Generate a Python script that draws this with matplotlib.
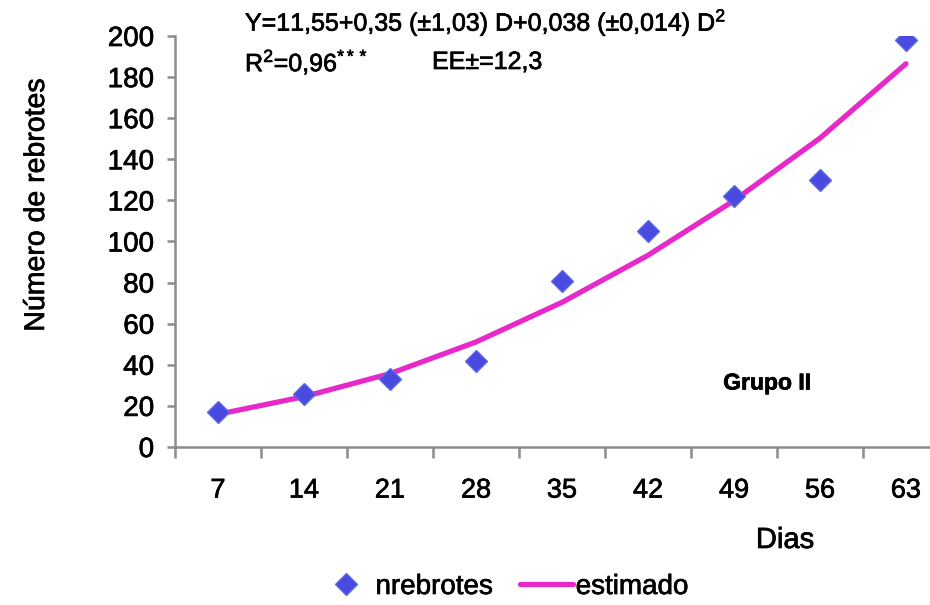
import matplotlib
matplotlib.use("Agg")
import matplotlib.pyplot as plt
import matplotlib.patheffects as pe
import numpy as np

plt.rcParams['font.family'] = ['Liberation Sans', 'DejaVu Sans']
plt.rcParams['mathtext.fontset'] = 'custom'
plt.rcParams['mathtext.rm'] = 'Liberation Sans'
plt.rcParams['mathtext.it'] = 'Liberation Sans'

dias = ['7', '14', '21', '28', '35', '42', '49', '56', '63']
nrebrotes = [17, 26, 33, 42, 81, 105, 122, 130, 198]
estimado = [15.9, 24.5, 35.7, 51.1, 70.4, 93.3, 119.9, 150.3, 186.5]
yticks = [0, 20, 40, 60, 80, 100, 120, 140, 160, 180, 200]

W, H = 930, 605
fig = plt.figure(figsize=(W / 100, H / 100), dpi=100)
left, right, top, bottom = 175, 949, 36, 447
ax = fig.add_axes([left / W, 1 - bottom / H, (right - left) / W, (bottom - top) / H])

stroke = [pe.withStroke(linewidth=0.5, foreground='black')]

x = np.arange(len(dias))
ax.plot(x, estimado, color='#E629C8', lw=3.8, solid_capstyle='round', zorder=2, label='estimado')
ax.plot(x, nrebrotes, ls='none', marker='D', ms=11.5, color='#4A4AE0', mec='#5A6AE8', mew=1,
        zorder=3, label='nrebrotes')

ax.set_xlim(-0.5, len(dias) - 0.5)
ax.set_ylim(0, 200)
ax.set_xticks(x)
ax.set_xticklabels(dias)
ax.set_xticks(np.arange(-0.5, len(dias) - 0.4, 1), minor=True)
ax.tick_params(axis='x', which='major', length=0, pad=22, labelsize=19.5)
ax.tick_params(axis='x', which='minor', length=8, width=1.8, color='#8C8C8C', direction='out')
ax.set_yticks(yticks)
ax.tick_params(axis='y', length=6, width=1.8, color='#8C8C8C', labelsize=20, pad=9)
for lab in ax.get_xticklabels() + ax.get_yticklabels():
    lab.set_path_effects(stroke)

for s in ['top', 'right']:
    ax.spines[s].set_visible(False)
for s in ['left', 'bottom']:
    ax.spines[s].set_color('#8C8C8C')
    ax.spines[s].set_linewidth(1.8)

fig.text(37 / W, 1 - 205 / H, 'Número de rebrotes', rotation=90, fontsize=20.5,
         ha='center', va='center', path_effects=stroke)
fig.text(785 / W, 1 - 540 / H, 'Dias', fontsize=21, ha='center', va='center', path_effects=stroke)

fig.text(245 / W, 1 - 22 / H, 'Y=11,55+0,35 (±1,03) D+0,038 (±0,014) D$^2$', fontsize=18,
         ha='left', va='center', path_effects=stroke)
fig.text(245 / W, 1 - 62 / H, 'R$^2$=0,96$^{***}$', fontsize=18, ha='left', va='center',
         path_effects=stroke)
fig.text(432 / W, 1 - 62 / H, 'EE±=12,3', fontsize=18, ha='left', va='center', path_effects=stroke)
fig.text(767 / W, 1 - 383 / H, 'Grupo II', fontsize=16.5, fontweight='bold', ha='center',
         va='center', path_effects=stroke)

leg = fig.legend(handles=[ax.lines[1], ax.lines[0]], labels=['nrebrotes', 'estimado'],
                 loc='center', bbox_to_anchor=(504 / W, 1 - 587 / H), ncol=2, frameon=False,
                 fontsize=20, handlelength=1.9, handletextpad=0.1, columnspacing=1.0)
for t in leg.get_texts():
    t.set_path_effects(stroke)

fig.savefig('out.png', dpi=100)
